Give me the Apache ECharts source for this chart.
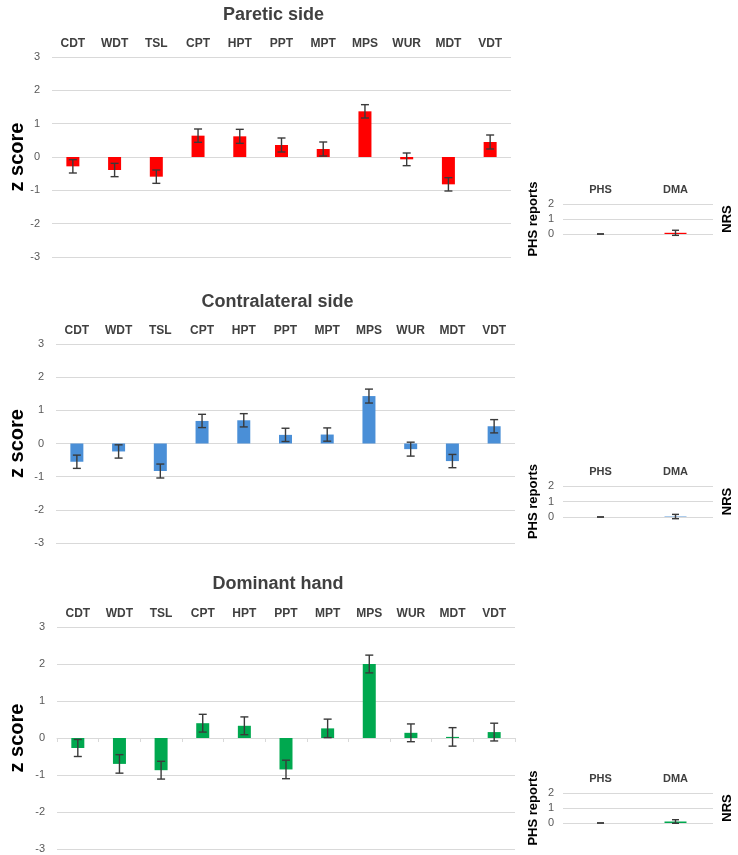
<!DOCTYPE html>
<html>
<head>
<meta charset="utf-8">
<script src="https://cdn.jsdelivr.net/npm/echarts@6/dist/echarts.min.js"></script>
<style>
html,body{margin:0;padding:0;background:#fff;}
#chart{width:738px;height:855px;}
</style>
</head>
<body>
<div id="chart"></div>
<script>
// ---- data ----
const categories = ['CDT','WDT','TSL','CPT','HPT','PPT','MPT','MPS','WUR','MDT','VDT'];
const pareticValues = [-0.28,-0.39,-0.59,0.64,0.62,0.36,0.24,1.37,-0.07,-0.82,0.45];
const pareticErrors = [0.2,0.2,0.2,0.2,0.21,0.21,0.21,0.2,0.19,0.2,0.21];
const contraValues = [-0.55,-0.24,-0.83,0.68,0.70,0.26,0.27,1.43,-0.17,-0.53,0.52];
const contraErrors = [0.2,0.2,0.21,0.2,0.2,0.2,0.2,0.21,0.21,0.2,0.2];
const dominantValues = [-0.27,-0.70,-0.87,0.40,0.33,-0.85,0.26,2.00,0.14,0.03,0.16];
const dominantErrors = [0.23,0.25,0.24,0.24,0.24,0.25,0.25,0.24,0.24,0.25,0.24];
const sideCategories = ['PHS','DMA'];
const sidePareticValues = [0, 0.08];
const sidePareticErrors = [0, 0.17];
const sideContraValues = [0, 0.03];
const sideContraErrors = [0, 0.14];
const sideDominantValues = [0, 0.1];
const sideDominantErrors = [0, 0.12];
const titles = ['Paretic side','Contralateral side','Dominant hand'];
const colors = ['#FF0000','#4A8FD7','#00A84F'];

// ---- layout ----
const mainGrids = [
  {left:52, top:57, width:459, height:200},
  {left:56, top:344, width:459, height:199},
  {left:57, top:627, width:458, height:222}
];
const sideGrids = [
  {left:563, top:204, width:150, height:30},
  {left:563, top:486, width:150, height:31},
  {left:563, top:793, width:150, height:30}
];
const titleY = [6, 293, 575];
const zNameGap = [25, 29, 30];

const mainSets = [
  [pareticValues, pareticErrors],
  [contraValues, contraErrors],
  [dominantValues, dominantErrors]
];
const sideSets = [
  [sidePareticValues, sidePareticErrors],
  [sideContraValues, sideContraErrors],
  [sideDominantValues, sideDominantErrors]
];

function errRender(capHalf){
  return function(params, api){
    const x = api.value(0), lo = api.value(1), hi = api.value(2);
    const a = api.coord([x, lo]), b = api.coord([x, hi]);
    const st = {stroke:'#3a3a3a', lineWidth:1.4};
    return {type:'group', children:[
      {type:'line', shape:{x1:a[0],y1:a[1],x2:b[0],y2:b[1]}, style:st},
      {type:'line', shape:{x1:a[0]-capHalf,y1:a[1],x2:a[0]+capHalf,y2:a[1]}, style:st},
      {type:'line', shape:{x1:b[0]-capHalf,y1:b[1],x2:b[0]+capHalf,y2:b[1]}, style:st}
    ]};
  };
}

const grid = [], xAxis = [], yAxis = [], series = [], title = [];
const font = 'Liberation Sans, Arial, sans-serif';

for (let k=0;k<3;k++){
  grid.push(Object.assign({outerBoundsMode:'none', containLabel:false}, mainGrids[k]));
  xAxis.push({type:'category', gridIndex:k, data:categories, position:'top',
    axisLine:{show:false, onZero:false}, axisTick:{show:false},
    axisLabel:{fontFamily:font, fontWeight:'bold', fontSize:12, color:'#404040', margin:7}});
  yAxis.push({type:'value', gridIndex:k, min:-3, max:3, interval:1,
    axisLine:{show:false}, axisTick:{show:false},
    axisLabel:{fontFamily:font, fontSize:11, color:'#595959', margin:12},
    splitLine:{lineStyle:{color:'#D9D9D9', width:1}},
    name:'z score', nameLocation:'middle', nameRotate:90, nameGap:zNameGap[k], nameMoveOverlap:false,
    nameTextStyle:{fontFamily:font, fontWeight:'bold', fontSize:20, color:'#000'}});
  title.push({text:titles[k], left: mainGrids[k].left + mainGrids[k].width/2 - 8, textAlign:'center', top:titleY[k], padding:0,
    textStyle:{fontFamily:font, fontWeight:'bold', fontSize:18, color:'#404040'}});
}
for (let k=0;k<3;k++){
  grid.push(Object.assign({outerBoundsMode:'none', containLabel:false}, sideGrids[k]));
  xAxis.push({type:'category', gridIndex:3+k, data:sideCategories, position:'top',
    axisLine:{show:false, onZero:false}, axisTick:{show:false},
    axisLabel:{fontFamily:font, fontWeight:'bold', fontSize:11, color:'#404040', margin:9}});
  yAxis.push({type:'value', gridIndex:3+k, min:0, max:2, interval:1,
    axisLine:{show:false}, axisTick:{show:false},
    axisLabel:{fontFamily:font, fontSize:11, color:'#595959', margin:9},
    splitLine:{lineStyle:{color:'#D9D9D9', width:1}},
    name:'PHS reports', nameLocation:'middle', nameRotate:90, nameGap:23,
    nameTextStyle:{fontFamily:font, fontWeight:'bold', fontSize:13, color:'#000'}});
}
for (let k=0;k<3;k++){
  yAxis.push({type:'value', gridIndex:3+k, min:0, max:2, interval:1, position:'right',
    axisLine:{show:false}, axisTick:{show:false}, axisLabel:{show:false}, splitLine:{show:false},
    name:'NRS', nameLocation:'middle', nameRotate:90, nameGap:8,
    nameTextStyle:{fontFamily:font, fontWeight:'bold', fontSize:13, color:'#000'}});
}
// zero line with ticks for dominant hand panel
xAxis.push({type:'category', gridIndex:2, data:categories, position:'bottom',
  axisLine:{show:true, onZero:true, lineStyle:{color:'#D9D9D9'}},
  axisTick:{show:true, length:4, lineStyle:{color:'#D9D9D9'}},
  axisLabel:{show:false}});

for (let k=0;k<3;k++){
  const [vals, errs] = mainSets[k];
  series.push({type:'bar', xAxisIndex:k, yAxisIndex:k, data:vals, barWidth:13,
    itemStyle:{color:colors[k]}, silent:true, animation:false});
  series.push({type:'custom', xAxisIndex:k, yAxisIndex:k, renderItem:errRender(4),
    data: vals.map((v,i)=>[i, v-errs[i], v+errs[i]]), z:5, silent:true, animation:false});
  const [sv, se] = sideSets[k];
  series.push({type:'bar', xAxisIndex:3+k, yAxisIndex:3+k, data:sv, barWidth:22,
    itemStyle:{color:colors[k]}, silent:true, animation:false});
  series.push({type:'custom', xAxisIndex:3+k, yAxisIndex:3+k, renderItem:errRender(3.5),
    data: sv.map((v,i)=>[i, v-se[i], v+se[i]]), z:5, silent:true, animation:false});
}

const chart = echarts.init(document.getElementById('chart'));
chart.setOption({animation:false, title, grid, xAxis, yAxis, series});
</script>
</body>
</html>
